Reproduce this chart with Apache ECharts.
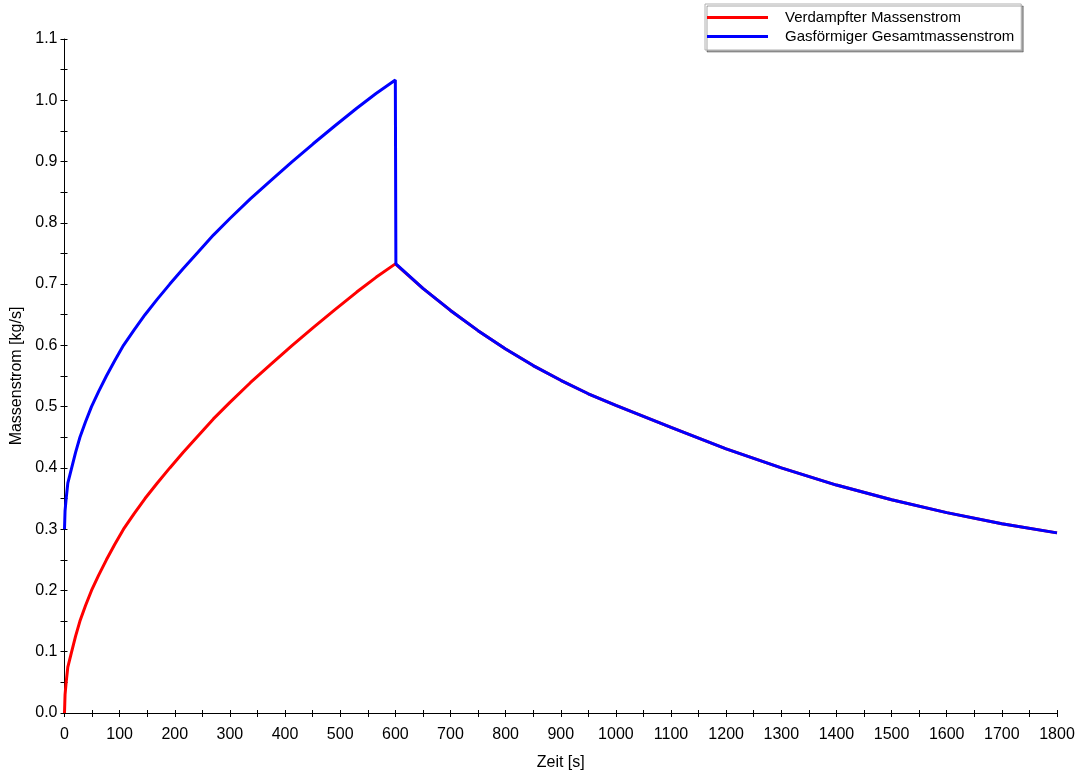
<!DOCTYPE html>
<html>
<head>
<meta charset="utf-8">
<script src="https://cdn.jsdelivr.net/npm/echarts@6/dist/echarts.min.js"></script>
<style>
  html, body { margin: 0; padding: 0; background: #fff; }
  #chart { width: 1080px; height: 776px; }
</style>
</head>
<body>
<div id="chart"></div>
<script>
// Zeitpunkte [s] und Werte [kg/s]
const riseTime = [0, 1, 3, 6, 13, 20, 28, 38, 49, 62, 76, 91, 107, 126, 146, 168, 191, 215, 240, 270, 300, 337, 373, 412, 451, 490, 530, 565, 600];
const redRise = [0, 0.03, 0.05, 0.075, 0.1, 0.125, 0.15, 0.175, 0.2, 0.225, 0.25, 0.275, 0.3, 0.325, 0.35, 0.375, 0.4, 0.425, 0.45, 0.48, 0.507, 0.539, 0.568, 0.599, 0.629, 0.658, 0.687, 0.711, 0.733];
const blueRise = [0.3, 0.33, 0.35, 0.375, 0.4, 0.425, 0.45, 0.475, 0.5, 0.525, 0.55, 0.575, 0.6, 0.625, 0.65, 0.675, 0.7, 0.725, 0.75, 0.78, 0.807, 0.839, 0.868, 0.899, 0.929, 0.958, 0.987, 1.011, 1.033];
const decayTime = [601, 650, 700, 750, 800, 850, 900, 950, 1000, 1100, 1200, 1300, 1400, 1500, 1600, 1700, 1800];
const decayValues = [0.733, 0.693, 0.657, 0.624, 0.594, 0.567, 0.543, 0.521, 0.502, 0.466, 0.431, 0.400, 0.372, 0.348, 0.327, 0.309, 0.294];
const seriesNames = ['Verdampfter Massenstrom', 'Gasförmiger Gesamtmassenstrom'];

function pairs(t, v) {
  return t.map((x, i) => [x, v[i]]);
}

const redData = pairs(riseTime, redRise).concat(pairs(decayTime, decayValues));
const blueData = pairs(riseTime, blueRise).concat(pairs(decayTime, decayValues));

const font = 'Liberation Sans, Arial, sans-serif';
const tickStyle = { color: '#000', width: 1 };

// Hilfsachsen fuer Striche, die die Achse kreuzen
const xBase = { type: 'value', min: 0, max: 1800, interval: 100, splitLine: { show: false } };
const yBase = { type: 'value', min: 0, max: 1.1, interval: 0.1, splitLine: { show: false } };

const chart = echarts.init(document.getElementById('chart'));
chart.setOption({
  animation: false,
  backgroundColor: '#fff',
  grid: { left: 64.5, right: 23, top: 39, bottom: 60.5 },
  legend: {
    data: seriesNames,
    orient: 'vertical',
    left: 705,
    top: 4,
    itemWidth: 61,
    itemHeight: 3,
    itemGap: 4,
    padding: [6, 7, 6, 2],
    backgroundColor: '#fff',
    borderColor: '#b0b0b0',
    borderWidth: 1,
    shadowColor: 'rgba(0,0,0,0.35)',
    shadowOffsetX: 2,
    shadowOffsetY: 2,
    icon: 'rect',
    textStyle: { fontFamily: font, fontSize: 15, color: '#000', padding: [0, 0, 0, 12] }
  },
  xAxis: [
    Object.assign({}, xBase, {
      position: 'bottom',
      name: 'Zeit [s]',
      nameLocation: 'middle',
      nameGap: 42,
      nameTextStyle: { fontFamily: font, fontSize: 16, color: '#000' },
      axisLine: { show: true, lineStyle: { color: '#000', width: 1 } },
      axisTick: { show: true, length: 4, lineStyle: tickStyle },
      minorTick: { show: true, splitNumber: 2, length: 4, lineStyle: tickStyle },
      axisLabel: { fontFamily: font, fontSize: 16, color: '#000', margin: 14, formatter: v => String(v) }
    }),
    Object.assign({}, xBase, {
      position: 'bottom',
      offset: 0,
      axisLine: { show: false },
      axisTick: { show: true, inside: true, length: 3, lineStyle: tickStyle },
      minorTick: { show: true, splitNumber: 2, length: 3, lineStyle: tickStyle },
      axisLabel: { show: false }
    })
  ],
  yAxis: [
    Object.assign({}, yBase, {
      position: 'left',
      name: 'Massenstrom [kg/s]',
      nameLocation: 'middle',
      nameGap: 40,
      nameTextStyle: { fontFamily: font, fontSize: 16, color: '#000' },
      axisLine: { show: true, lineStyle: { color: '#000', width: 1 } },
      axisTick: { show: true, length: 4, lineStyle: tickStyle },
      minorTick: { show: true, splitNumber: 2, length: 4, lineStyle: tickStyle },
      axisLabel: { fontFamily: font, fontSize: 16, color: '#000', margin: 7, formatter: v => v.toFixed(1) }
    }),
    Object.assign({}, yBase, {
      position: 'left',
      offset: 0,
      axisLine: { show: false },
      axisTick: { show: true, inside: true, length: 3, lineStyle: tickStyle },
      minorTick: { show: true, splitNumber: 2, length: 3, lineStyle: tickStyle },
      axisLabel: { show: false }
    })
  ],
  series: [
    {
      name: seriesNames[0],
      type: 'line',
      data: redData,
      showSymbol: false,
      lineStyle: { color: '#ff0000', width: 3 },
      itemStyle: { color: '#ff0000' }
    },
    {
      name: seriesNames[1],
      type: 'line',
      data: blueData,
      showSymbol: false,
      lineStyle: { color: '#0000ff', width: 3 },
      itemStyle: { color: '#0000ff' }
    }
  ]
});
</script>
</body>
</html>
